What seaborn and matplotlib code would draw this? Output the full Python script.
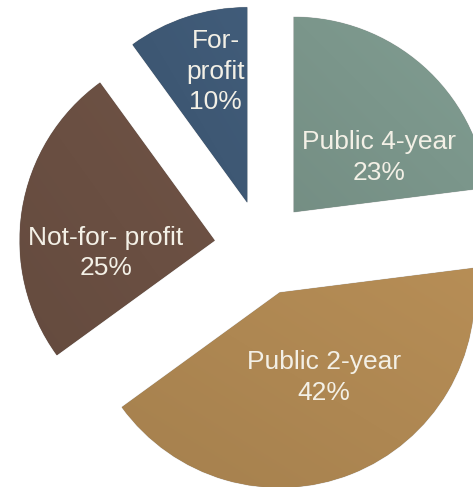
import numpy as np
import matplotlib
matplotlib.use("Agg")
import matplotlib.pyplot as plt
import seaborn as sns
from matplotlib.colors import to_rgb

# ---- data ----
categories = ["Public 4-year", "Public 2-year", "Not-for- profit", "For-\nprofit"]
shares = [23, 42, 25, 10]
pct_labels = ["23%", "42%", "25%", "10%"]
colors_hex = ["#7b968b", "#ae8752", "#6a4f42", "#3e5874"]

# label placement relative to each wedge's apex: (radius fraction, angle tweak in deg)
label_pos = [(0.52, -16), (0.49, 6), (0.56, 15.5), (0.69, -4.4)]

sns.set_theme(style="white")
plt.rcParams['font.family'] = ['Liberation Sans', 'DejaVu Sans']
palette = sns.color_palette(colors_hex)

W, H = 473, 487
fig = plt.figure(figsize=(W / 100, H / 100), dpi=100)
fig.patch.set_facecolor("white")
ax = fig.add_axes([0, 0, 1, 1])

wedges, _ = ax.pie(shares, explode=[0.246] * len(shares), colors=palette,
                   startangle=90, counterclock=False, radius=1.0,
                   center=(0, 0),
                   wedgeprops=dict(edgecolor="#00000028", linewidth=0.8))

# pixel geometry: centre of pie at (262, 248) from top-left, radius 195 px
R_PX = 195.0
cx, cy = 262.0, 248.0
ax.set_xlim(-cx / R_PX, (W - cx) / R_PX)
ax.set_ylim(-(H - cy) / R_PX, cy / R_PX)
ax.set_aspect("equal")
ax.axis("off")

# subtle gradient shading clipped to each wedge
g = np.linspace(0, 1, 200)
X, Y = np.meshgrid(g, g)
T = (X + Y) / 2.0
for w, col in zip(wedges, palette):
    base = np.array(to_rgb(col))
    img = np.clip(base[None, None, :] * (0.95 + 0.10 * T[..., None]), 0, 1)
    bb = w.get_path().get_extents(w.get_transform())
    bb_data = ax.transData.inverted().transform(bb.get_points())
    (x0, y0), (x1, y1) = bb_data
    im = ax.imshow(img, origin="lower", extent=(x0, x1, y0, y1),
                   interpolation="bilinear", zorder=w.get_zorder() + 0.1)
    im.set_clip_path(w)

ax.set_xlim(-cx / R_PX, (W - cx) / R_PX)
ax.set_ylim(-(H - cy) / R_PX, cy / R_PX)

for w, cat, pct, (rf, dth) in zip(wedges, categories, pct_labels, label_pos):
    mid = np.deg2rad((w.theta1 + w.theta2) / 2 + dth)
    x = w.center[0] + rf * np.cos(mid)
    y = w.center[1] + rf * np.sin(mid)
    ax.text(x, y, f"{cat}\n{pct}", ha="center", va="center",
            fontsize=19, color="#f3f0e6", linespacing=1.35, zorder=10)

fig.savefig("out.png", dpi=100, facecolor="white")
